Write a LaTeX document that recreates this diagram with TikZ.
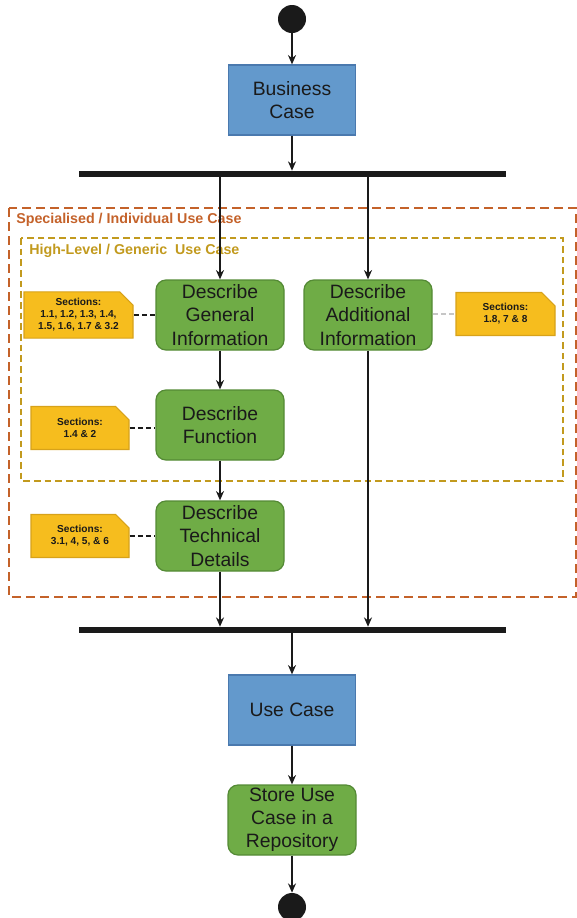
\documentclass[tikz,border=0pt]{standalone}
\usepackage{fontspec}
\setmainfont{Liberation Sans}
\usetikzlibrary{arrows.meta,shapes.misc}
\definecolor{boxblue}{HTML}{6399CC}
\definecolor{boxblueb}{HTML}{4A79AE}
\definecolor{boxgreen}{HTML}{6FAC46}
\definecolor{boxgreenb}{HTML}{548A35}
\definecolor{noteyel}{HTML}{F6BD1E}
\definecolor{noteyelb}{HTML}{D7A21A}
\definecolor{outerc}{HTML}{C4622A}
\definecolor{innerc}{HTML}{C29A1E}
\definecolor{txt}{HTML}{1A1A1A}
\tikzset{
  bluebox/.style={draw=boxblueb, line width=0.9pt, fill=boxblue, minimum width=95.25pt, minimum height=52.5pt, inner sep=0pt, align=center, text=txt, font=\fontsize{14.5}{17.4}\selectfont},
  greenbox/.style={draw=boxgreenb, line width=0.9pt, fill=boxgreen, rounded corners=7.5pt, minimum width=96pt, minimum height=52.5pt, inner sep=0pt, align=center, text=txt, font=\fontsize{14.5}{17.4}\selectfont},
  notebox/.style={chamfered rectangle, chamfered rectangle corners={north east}, chamfered rectangle xsep=5pt, chamfered rectangle ysep=5pt, draw=noteyelb, line width=0.8pt, fill=noteyel, inner sep=0pt, align=center, text=txt, font=\bfseries\fontsize{7.6}{9}\selectfont},
  bar/.style={fill=txt, draw=none, minimum width=320.25pt, minimum height=4.5pt, inner sep=0pt},
  dot/.style={circle, fill=txt, draw=none, minimum size=21pt, inner sep=0pt},
  arr/.style={draw=txt, line width=1.5pt, -{Stealth[length=7pt,width=6pt]}},
  link/.style={draw=txt, line width=1.5pt, dash pattern=on 4pt off 2.2pt},
  glink/.style={draw=gray!45, line width=1.5pt, dash pattern=on 4pt off 2.2pt},
  grouplbl/.style={anchor=west, font=\bfseries\fontsize{10.7}{12}\selectfont, inner sep=0pt}
}
\begin{document}
\begin{tikzpicture}[x=0.75pt, y=-0.75pt]
\useasboundingbox (0,0) rectangle (577,918);
% group boxes
\draw[outerc, line width=1.5pt, dash pattern=on 6.5pt off 4pt] (9,208) rectangle (576,597);
\node[grouplbl, text=outerc] (lblouter) at (16,220) {Specialised / Individual Use Case};
\draw[innerc, line width=1.5pt, dash pattern=on 5pt off 3pt] (21,238) rectangle (563,481);
\node[grouplbl, text=innerc] (lblinner) at (29,251) {High-Level / Generic\ \ Use Case};
% nodes
\node[dot] (start) at (292,19) {};
\node[bluebox] (bc) at (292,100) {Business\\Case};
\node[bar] (bar1) at (292.5,174) {};
\node[greenbox] (gen) at (220,315) {Describe\\General\\Information};
\node[greenbox] (add) at (368,315) {Describe\\Additional\\Information};
\node[greenbox] (fun) at (220,425) {Describe\\Function};
\node[greenbox] (tec) at (220,536) {Describe\\Technical\\Details};
\node[notebox, minimum width=81.75pt, minimum height=33pt] (n1) at (78.5,315) {Sections:\\1.1, 1.2, 1.3, 1.4,\\1.5, 1.6, 1.7 \& 3.2};
\node[notebox, minimum width=74.25pt, minimum height=32.25pt] (n2) at (505.5,314) {Sections:\\1.8, 7 \& 8};
\node[notebox, minimum width=73.5pt, minimum height=32.25pt] (n3) at (80,428) {Sections:\\1.4 \& 2};
\node[notebox, minimum width=73.5pt, minimum height=32.25pt] (n4) at (80,536) {Sections:\\3.1, 4, 5, \& 6};
\node[bar] (bar2) at (292.5,630) {};
\node[bluebox] (uc) at (292,710) {Use Case};
\node[greenbox] (store) at (292,820) {Store Use\\Case in a\\Repository};
\node[dot] (end) at (292,907) {};
% connectors
\draw[arr] (start) -- (bc);
\draw[arr] (bc) -- (bc.south |- bar1.north);
\draw[arr] (bar1.south -| gen.north) -- (gen);
\draw[arr] (bar1.south -| add.north) -- (add);
\draw[arr] (gen) -- (fun);
\draw[arr] (fun) -- (tec);
\draw[arr] (tec) -- (tec.south |- bar2.north);
\draw[arr] (add) -- (add.south |- bar2.north);
\draw[arr] (bar2.south -| uc.north) -- (uc);
\draw[arr] (uc) -- (store);
\draw[arr] (store) -- (end);
\draw[link] (n1.east) -- (n1.east -| gen.west);
\draw[glink] (add.east |- n2.west) -- (n2.west);
\draw[link] (n3.east) -- (n3.east -| fun.west);
\draw[link] (n4.east) -- (n4.east -| tec.west);
\end{tikzpicture}
\end{document}
